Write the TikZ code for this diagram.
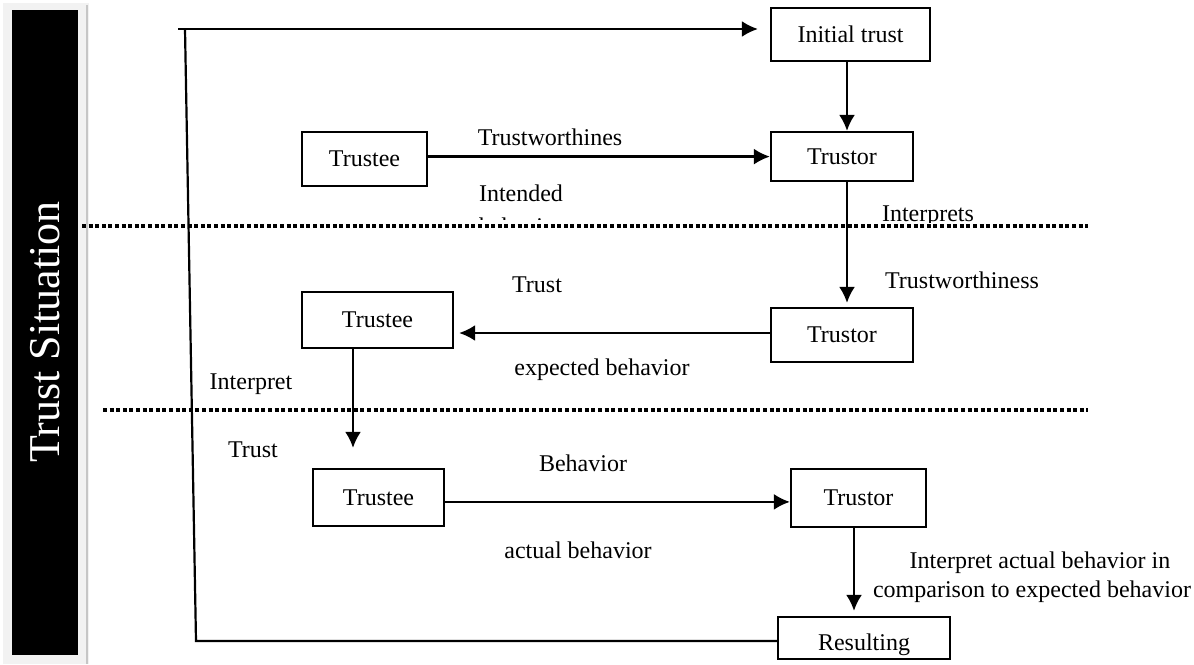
\documentclass[tikz,border=0pt]{standalone}
\usepackage{fontspec}
\setmainfont{Liberation Serif}
\usetikzlibrary{arrows.meta}
\begin{document}
\begin{tikzpicture}[x=0.5pt,y=-0.5pt,
  box/.style={draw,line width=1.1pt,inner sep=0pt,font=\fontsize{12}{14}\selectfont},
  lbl/.style={inner sep=0pt,font=\fontsize{12}{14}\selectfont},
  arr/.style={line width=1.2pt,-{Latex[length=8pt,width=8pt]}},
  ln/.style={line width=1.1pt},
  dotline/.style={line width=2pt,dash pattern=on 2pt off 1.3pt}]
\useasboundingbox (0,0) rectangle (1194,664);
% side bar
\fill[gray!10] (3,3) rectangle (89,664);
\draw[gray!45,line width=1.2pt] (87,5) -- (87,664);
\fill[black] (12,10) rectangle (78,655);
\node[rotate=90,text=white,inner sep=0pt,font=\fontsize{22}{26}\selectfont] (ts) at (45,332) {Trust Situation};
% boxes
\node[box,minimum width=79.5pt,minimum height=26.5pt] (init) at (850.5,34.5) {Initial trust};
\node[box,minimum width=71pt,minimum height=24.5pt] (r1) at (842,156.5) {Trustor};
\node[box,minimum width=62.5pt,minimum height=27pt] (e1) at (364.5,159) {Trustee};
\node[box,minimum width=75.5pt,minimum height=28pt] (e2) at (377.5,320) {Trustee};
\node[box,minimum width=71pt,minimum height=27pt] (r2) at (842,335) {Trustor};
\node[box,minimum width=65.5pt,minimum height=28.5pt] (e3) at (378.5,497.5) {Trustee};
\node[box,minimum width=67.5pt,minimum height=29pt] (r3) at (858.5,498) {Trustor};
\node[draw,line width=1.1pt,minimum width=86pt,minimum height=21pt,inner sep=0pt] (res) at (864,638) {};
\begin{scope}
  \clip (res.south west) rectangle (res.north east);
  \node[lbl,anchor=base] (restext) at (864,650) {Resulting};
\end{scope}
% coordinates
\coordinate (tl) at (178,29);
\coordinate (vt) at (185,29);
\coordinate (vb) at (196,641);
\coordinate (c1) at (847,0);
\coordinate (c2) at (353,0);
\coordinate (c3) at (854,0);
% left feedback line
\draw[arr,shorten >=6pt] (tl) -- (tl -| init.west);
\draw[ln] (vt) -- (vb) -- (vb -| res.west);
% arrows
\draw[arr] (init.south -| c1) -- (r1.north -| c1);
\draw[arr] ([yshift=1.2pt]e1.east) -- ([yshift=1.2pt]e1.east -| r1.west);
\draw[arr,shorten >=2pt] (r1.south -| c1) -- (r2.north -| c1);
\draw[arr,shorten >=2.5pt] ([yshift=1pt]r2.west) -- ([yshift=1pt]r2.west -| e2.east);
\draw[arr,shorten >=10pt] (e2.south -| c2) -- (e3.north -| c2);
\draw[arr] ([yshift=-2.2pt]e3.east) -- ([yshift=-2.2pt]e3.east -| r3.west);
\draw[arr,shorten >=2.5pt] (r3.south -| c3) -- (res.north -| c3);
% labels
\node[lbl] (l1) at (550,137) {Trustworthines};
\node[lbl] (l2) at (521,193) {Intended};
\begin{scope}
  \clip (400,200) rectangle (650,219);
  \node[lbl] (l2b) at (521,226) {behavior};
\end{scope}
\begin{scope}
  \clip (850,190) rectangle (1010,222);
  \node[lbl] (l3) at (928,216) {Interprets};
\end{scope}
\node[lbl] (l4) at (962,280) {Trustworthiness};
\node[lbl] (l5) at (537,285) {Trust};
\node[lbl] (l6) at (602,370) {expected behavior};
\node[lbl] (l7) at (251,384) {Interpret};
\node[lbl] (l8) at (253,450) {Trust};
\node[lbl] (l9) at (583,463) {Behavior};
\node[lbl] (l10) at (578,550) {actual behavior};
\node[lbl] (l11) at (1040,563) {Interpret actual behavior in};
\node[lbl] (l12) at (1032,592) {comparison to expected behavior};
% dotted separators
\draw[dotline] (82,226) -- (1088,226);
\draw[dotline] (103,410) -- (1088,410);
\end{tikzpicture}
\end{document}
